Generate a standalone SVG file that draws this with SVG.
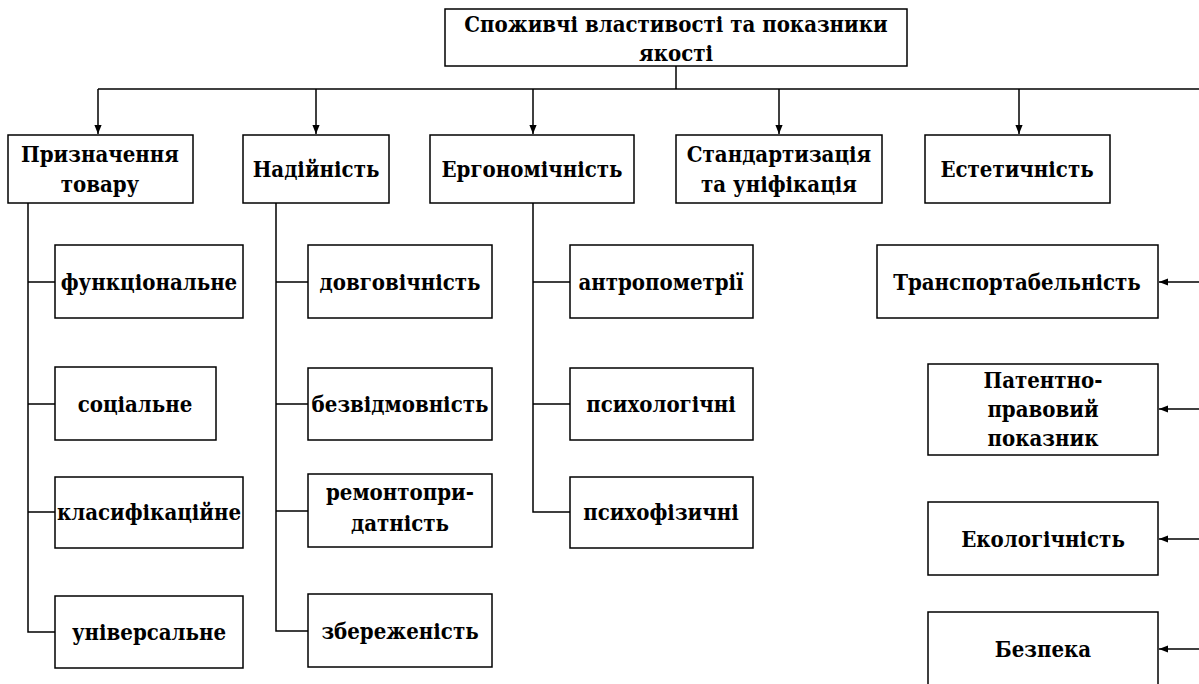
<svg xmlns="http://www.w3.org/2000/svg" width="1199" height="684" viewBox="0 0 1199 684">
<style>
rect{fill:#fff;stroke:#000;stroke-width:1.5}
text{font-family:'DejaVu Serif Condensed','DejaVu Serif',serif;font-stretch:condensed;font-weight:700;font-size:22px;text-anchor:middle;fill:#000}
.c line,.c path{stroke:#000;stroke-width:1.5;fill:none}
</style>
<defs>
<marker id="ah" viewBox="0 0 10 10" refX="10" refY="5" markerWidth="9" markerHeight="9" markerUnits="userSpaceOnUse" orient="auto"><path d="M0,1 L10,5 L0,9 Z" fill="#000"/></marker>
</defs>
<rect width="1199" height="684" style="fill:#fff;stroke:none"/>
<g class="c" id="connectors">
<line x1="676" y1="66" x2="676" y2="89"/>
<line x1="98" y1="89" x2="1199" y2="89"/>
<line x1="98" y1="89" x2="98" y2="134" marker-end="url(#ah)"/>
<line x1="316" y1="89" x2="316" y2="134" marker-end="url(#ah)"/>
<line x1="533" y1="89" x2="533" y2="134" marker-end="url(#ah)"/>
<line x1="779" y1="89" x2="779" y2="134" marker-end="url(#ah)"/>
<line x1="1019" y1="89" x2="1019" y2="134" marker-end="url(#ah)"/>
<path d="M28,203 V632 H55 M28,282 H55 M28,404 H55 M28,512 H55"/>
<path d="M276,203 V631 H308 M276,282 H308 M276,404 H308 M276,511 H308"/>
<path d="M533,203 V512 H570 M533,282 H570 M533,404 H570"/>
<line x1="1199" y1="282" x2="1159" y2="282" marker-end="url(#ah)"/>
<line x1="1199" y1="409" x2="1159" y2="409" marker-end="url(#ah)"/>
<line x1="1199" y1="539" x2="1159" y2="539" marker-end="url(#ah)"/>
<line x1="1199" y1="649" x2="1159" y2="649" marker-end="url(#ah)"/>
</g>
<g id="root"><rect x="445" y="9" width="462" height="57"/><text x="676" y="32">Споживчі властивості та показники</text><text x="676" y="61">якості</text></g>
<g id="n1"><rect x="8" y="135" width="185" height="68"/><text x="100" y="162">Призначення</text><text x="100" y="192">товару</text></g>
<g id="n2"><rect x="243" y="135" width="146" height="68"/><text x="316" y="177">Надійність</text></g>
<g id="n3"><rect x="430" y="135" width="204" height="68"/><text x="532" y="177">Ергономічність</text></g>
<g id="n4"><rect x="676" y="135" width="206" height="68"/><text x="779" y="162">Стандартизація</text><text x="779" y="192">та уніфікація</text></g>
<g id="n5"><rect x="925" y="135" width="185" height="68"/><text x="1017" y="177">Естетичність</text></g>
<g id="n1a"><rect x="55" y="245" width="188" height="73"/><text x="149" y="290">функціональне</text></g>
<g id="n1b"><rect x="55" y="367" width="161" height="73"/><text x="135" y="412">соціальне</text></g>
<g id="n1c"><rect x="55" y="477" width="188" height="71"/><text x="149" y="520">класифікаційне</text></g>
<g id="n1d"><rect x="55" y="596" width="188" height="72"/><text x="149" y="640">універсальне</text></g>
<g id="n2a"><rect x="308" y="245" width="184" height="73"/><text x="400" y="290">довговічність</text></g>
<g id="n2b"><rect x="308" y="368" width="184" height="72"/><text x="400" y="412">безвідмовність</text></g>
<g id="n2c"><rect x="308" y="474" width="184" height="73"/><text x="400" y="500">ремонтопри-</text><text x="400" y="531">датність</text></g>
<g id="n2d"><rect x="308" y="594" width="184" height="73"/><text x="400" y="639">збереженість</text></g>
<g id="n3a"><rect x="570" y="245" width="183" height="73"/><text x="661" y="290">антропометрії</text></g>
<g id="n3b"><rect x="570" y="368" width="183" height="72"/><text x="661" y="412">психологічні</text></g>
<g id="n3c"><rect x="570" y="477" width="183" height="71"/><text x="661" y="520">психофізичні</text></g>
<g id="n5a"><rect x="877" y="245" width="281" height="73"/><text x="1017" y="290">Транспортабельність</text></g>
<g id="n5b"><rect x="928" y="364" width="230" height="91"/><text x="1043" y="388">Патентно-</text><text x="1043" y="417">правовий</text><text x="1043" y="446">показник</text></g>
<g id="n5c"><rect x="928" y="502" width="230" height="73"/><text x="1043" y="547">Екологічність</text></g>
<g id="n5d"><rect x="928" y="612" width="230" height="80"/><text x="1043" y="657">Безпека</text></g>
</svg>
